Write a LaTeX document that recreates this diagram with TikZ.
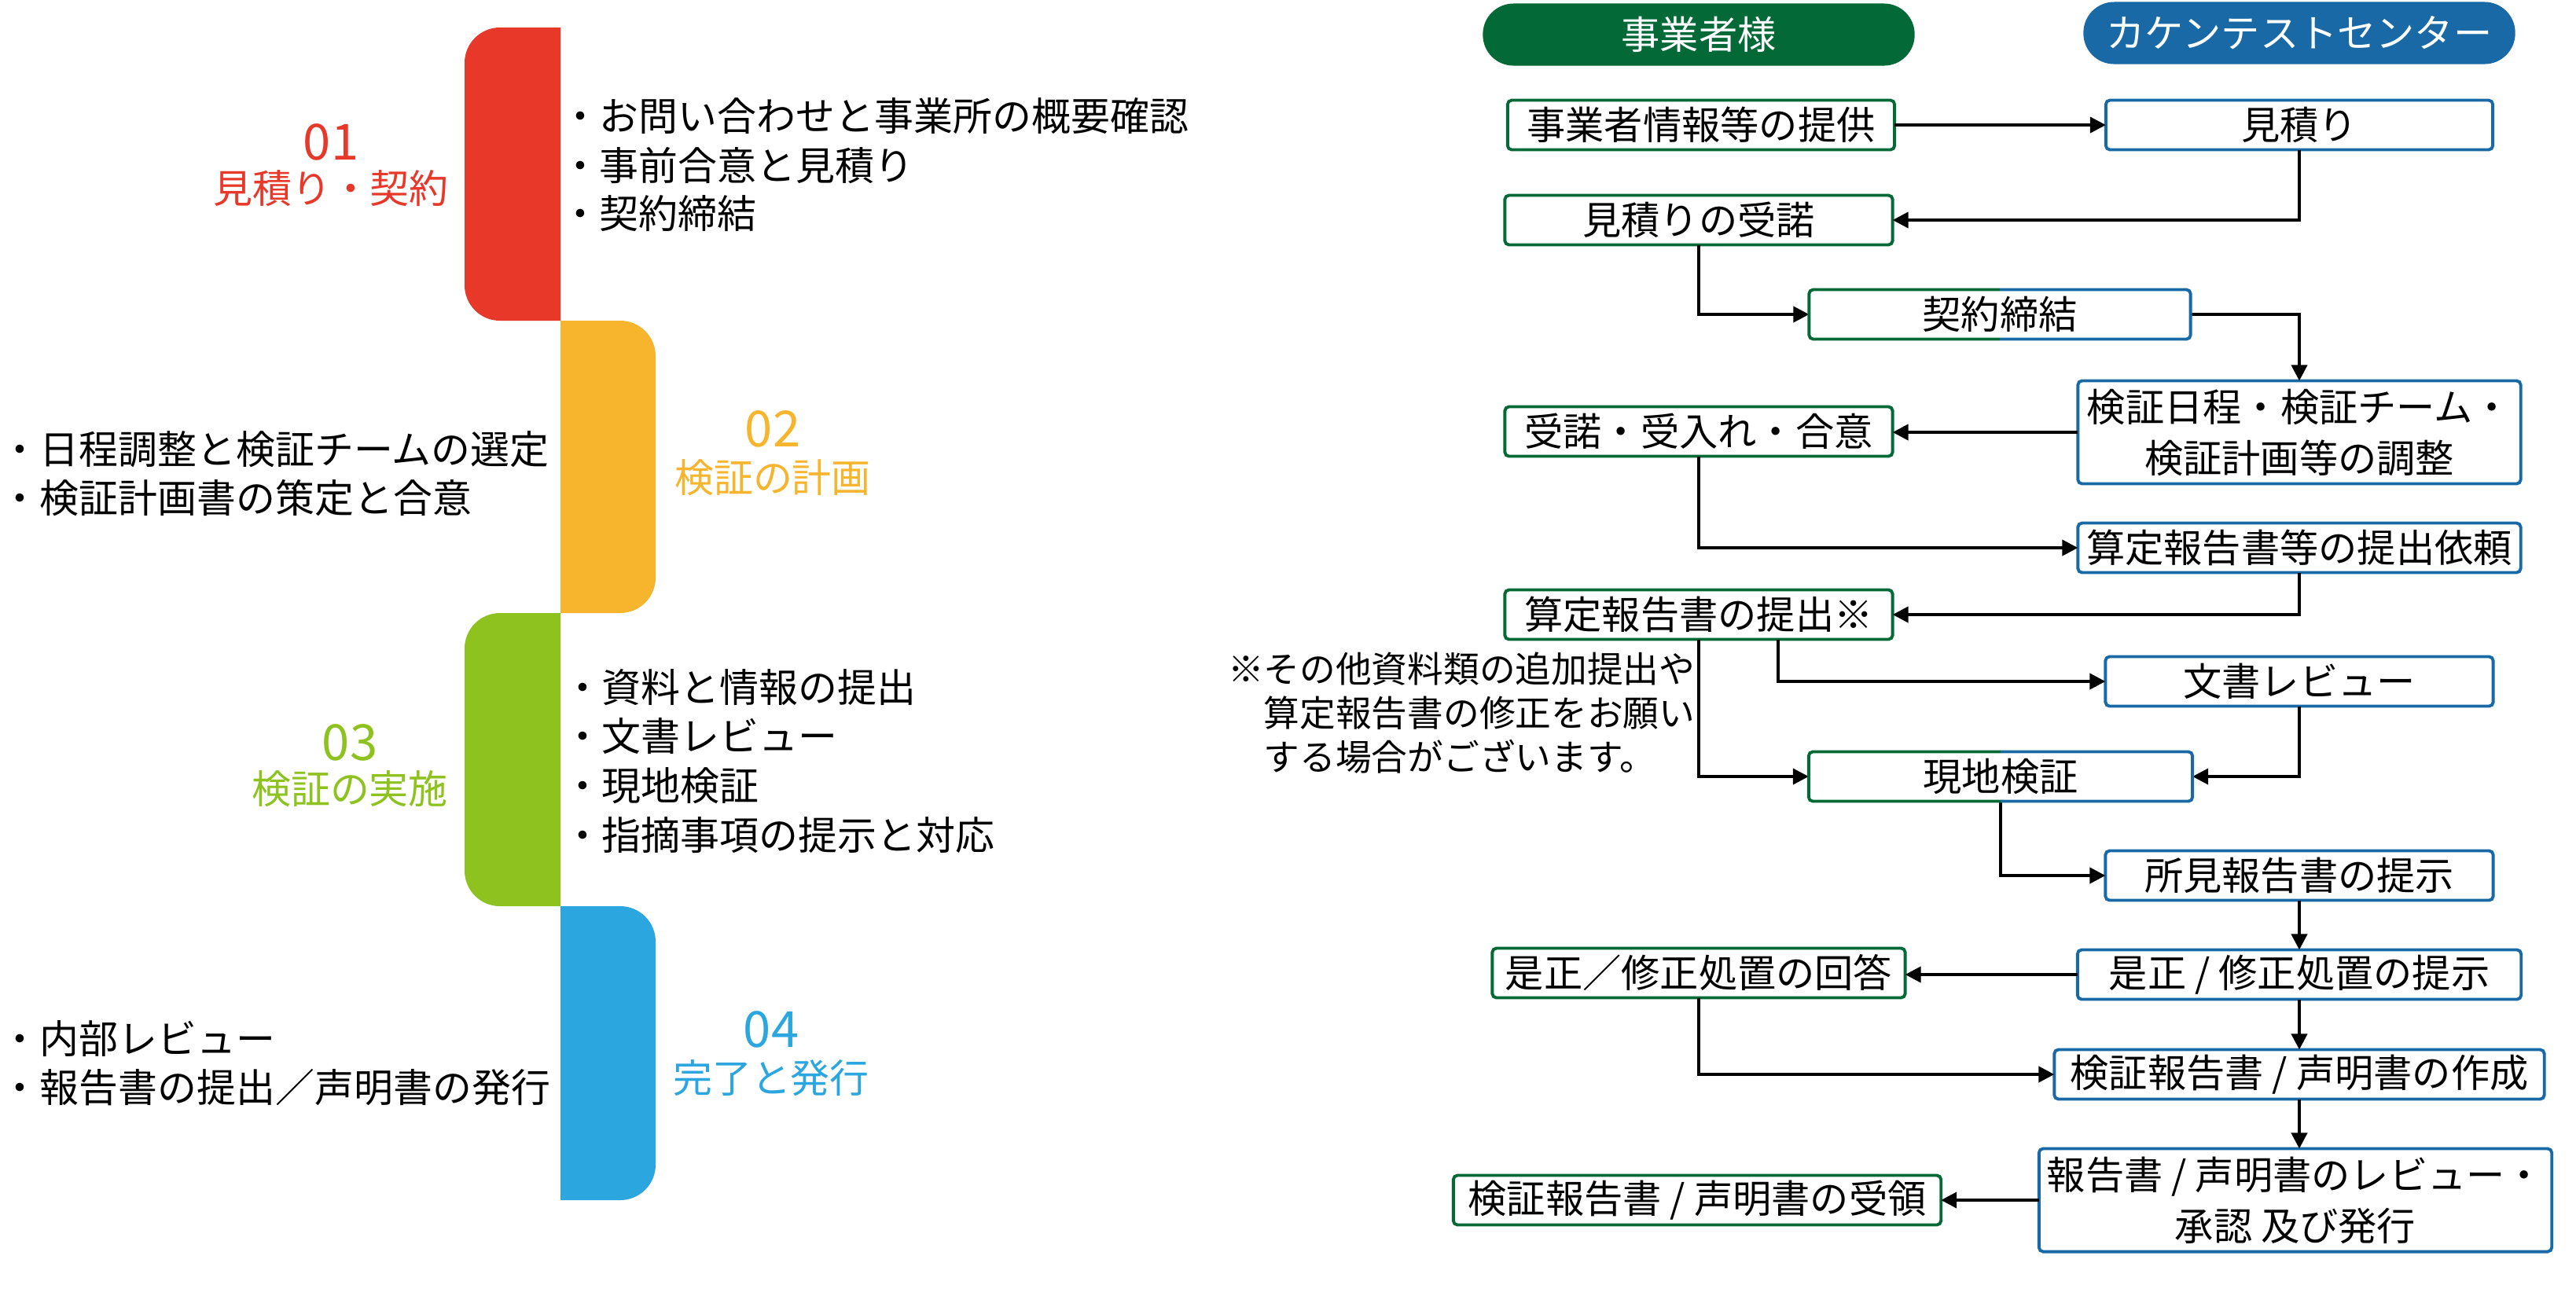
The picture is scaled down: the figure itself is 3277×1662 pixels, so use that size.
\documentclass[tikz,border=0pt]{standalone}
\usepackage{fontspec}
\setmainfont{Noto Sans CJK JP}
\usetikzlibrary{arrows.meta,calc}
\definecolor{cRed}{HTML}{E8382A}
\definecolor{cOrange}{HTML}{F6B52D}
\definecolor{cGreen}{HTML}{8DC21F}
\definecolor{cBlue}{HTML}{2BA6DF}
\definecolor{dGreen}{HTML}{036A37}
\definecolor{dBlue}{HTML}{1869A6}
\newcommand\splitborder[1]{%
  \begin{scope}
    \clip ($(#1.north west)+(-20,-20)$) rectangle ($(#1.south)+(0,20)$);
    \draw[dGreen,line width=1.1pt,rounded corners=1.5pt] (#1.north west) rectangle (#1.south east);
  \end{scope}
  \begin{scope}
    \clip ($(#1.north)+(0,-20)$) rectangle ($(#1.south east)+(20,20)$);
    \draw[dBlue,line width=1.1pt,rounded corners=1.5pt] (#1.north west) rectangle (#1.south east);
  \end{scope}}
\begin{document}
\begin{tikzpicture}[x=0.01cm,y=-0.01cm,
  every node/.style={inner sep=0pt,outer sep=0pt},
  body/.style={font=\fontsize{14.2}{17}\selectfont},
  bullet/.style={body,anchor=west},
  num/.style={font=\fontsize{18}{20}\selectfont},
  lab/.style={font=\fontsize{14.2}{17}\selectfont},
  box/.style={fill=white,line width=1.1pt,rounded corners=1.5pt,minimum height=0.63cm,
    align=center,font=\fontsize{14}{18.5}\selectfont},
  gbox/.style={box,draw=dGreen},
  bbox/.style={box,draw=dBlue},
  sbox/.style={box},
  pill/.style={rounded corners=0.39cm,minimum width=5.49cm,minimum height=0.79cm,
    text=white,font=\fontsize{14}{17}\selectfont},
  arr/.style={line width=1.1pt,-{Triangle[length=0.2cm,width=0.2cm]}},
  ln/.style={line width=1.1pt}]
\useasboundingbox (0,0) rectangle (3277,1662);
\fill[white] (0,0) rectangle (3277,1662);

% ---------- left: stage bars ----------
\begin{scope}
  \clip (591,35) rectangle (713,408);
  \fill[cRed,rounded corners=0.45cm] (591,35) rectangle (800,408);
\end{scope}
\begin{scope}
  \clip (713,408) rectangle (834,780);
  \fill[cOrange,rounded corners=0.45cm] (600,408) rectangle (834,780);
\end{scope}
\begin{scope}
  \clip (591,780) rectangle (713,1153);
  \fill[cGreen,rounded corners=0.45cm] (591,780) rectangle (800,1153);
\end{scope}
\begin{scope}
  \clip (713,1153) rectangle (834,1527);
  \fill[cBlue,rounded corners=0.45cm] (600,1153) rectangle (834,1527);
\end{scope}

% stage labels
\node[num,text=cRed] (n1) at (421,181) {01};
\node[lab,text=cRed] (l1) at (421,240) {見積り・契約};
\node[num,text=cOrange] (n2) at (983,546) {02};
\node[lab,text=cOrange] (l2) at (983,608) {検証の計画};
\node[num,text=cGreen] (n3) at (445,945) {03};
\node[lab,text=cGreen] (l3) at (445,1004) {検証の実施};
\node[num,text=cBlue] (n4) at (981,1310) {04};
\node[lab,text=cBlue] (l4) at (981,1372) {完了と発行};

% stage bullets
\node[bullet] (t11) at (713,148) {・お問い合わせと事業所の概要確認};
\node[bullet] (t12) at (713,210) {・事前合意と見積り};
\node[bullet] (t13) at (713,272) {・契約締結};
\node[bullet] (t21) at (1,572) {・日程調整と検証チームの選定};
\node[bullet] (t22) at (1,634) {・検証計画書の策定と合意};
\node[bullet] (t31) at (716,875) {・資料と情報の提出};
\node[bullet] (t32) at (716,937) {・文書レビュー};
\node[bullet] (t33) at (716,1000) {・現地検証};
\node[bullet] (t34) at (716,1063) {・指摘事項の提示と対応};
\node[bullet] (t41) at (1,1322) {・内部レビュー};
\node[bullet] (t42) at (1,1384) {・報告書の提出／声明書の発行};

% ---------- right: flow ----------
\node[pill,fill=dGreen] (h1) at (2161,44) {事業者様};
\node[pill,fill=dBlue] (h2) at (2925,42) {カケンテストセンター};

\node[gbox,minimum width=4.92cm] (b1) at (2164,159) {事業者情報等の提供};
\node[bbox,minimum width=4.92cm] (b2) at (2925,159) {見積り};
\node[gbox,minimum width=4.93cm] (b3) at (2161,280) {見積りの受諾};
\node[sbox,minimum width=4.85cm] (b4) at (2544,400) {契約締結};
\node[bbox,minimum width=5.63cm,minimum height=1.31cm] (b5) at (2925,550) {検証日程・検証チーム・\\検証計画等の調整};
\node[gbox,minimum width=4.93cm] (b6) at (2161,549) {受諾・受入れ・合意};
\node[bbox,minimum width=5.63cm] (b7) at (2925,697) {算定報告書等の提出依頼};
\node[gbox,minimum width=4.93cm] (b8) at (2161,782) {算定報告書の提出※};
\node[bbox,minimum width=4.93cm] (b9) at (2925,867) {文書レビュー};
\node[sbox,minimum width=4.88cm] (b10) at (2545,988) {現地検証};
\node[bbox,minimum width=4.93cm] (b11) at (2925,1114) {所見報告書の提示};
\node[bbox,minimum width=5.64cm] (b12) at (2925,1240) {是正 / 修正処置の提示};
\node[gbox,minimum width=5.25cm] (b13) at (2161,1238) {是正／修正処置の回答};
\node[bbox,minimum width=6.23cm] (b14) at (2925,1367) {検証報告書 / 声明書の作成};
\node[bbox,minimum width=6.52cm,minimum height=1.31cm] (b15) at (2920,1527) {報告書 / 声明書のレビュー・\\承認 及び発行};
\node[gbox,minimum width=6.20cm] (b16) at (2159,1527) {検証報告書 / 声明書の受領};

\node[anchor=north west,align=left,font=\fontsize{13}{15.9}\selectfont] (note) at (1562,830)
  {※その他資料類の追加提出や\\\phantom{※}算定報告書の修正をお願い\\\phantom{※}する場合がございます。};

% connectors
\draw[arr] (b1.east) -- (b2.west);
\draw[arr] (b2.south) |- (b3.east);
\draw[arr] (b3.south) |- (b4.west);
\draw[arr] (b4.east) -| (b5.north);
\draw[arr] (b5.west) -- (b5.west -| b6.east);
\draw[arr] (b6.south) |- (b7.west);
\draw[arr] (b7.south) |- (b8.east);
\coordinate (b8r) at ($(b8.south)+(101,0)$);
\draw[arr] (b8r) |- (b9.west);
\draw[arr] (b8.south) |- (b10.west);
\draw[arr] (b9.south) |- (b10.east);
\draw[arr] (b10.south) |- (b11.west);
\draw[arr] (b11.south) -- (b12.north);
\draw[arr] (b12.west) -- (b12.west -| b13.east);
\draw[arr] (b12.south) -- (b14.north);
\draw[arr] (b13.south) |- (b14.west);
\draw[arr] (b14.south) -- (b14.south |- b15.north);
\draw[arr] (b15.west) -- (b16.east);

\splitborder{b4}
\splitborder{b10}
\end{tikzpicture}
\end{document}
